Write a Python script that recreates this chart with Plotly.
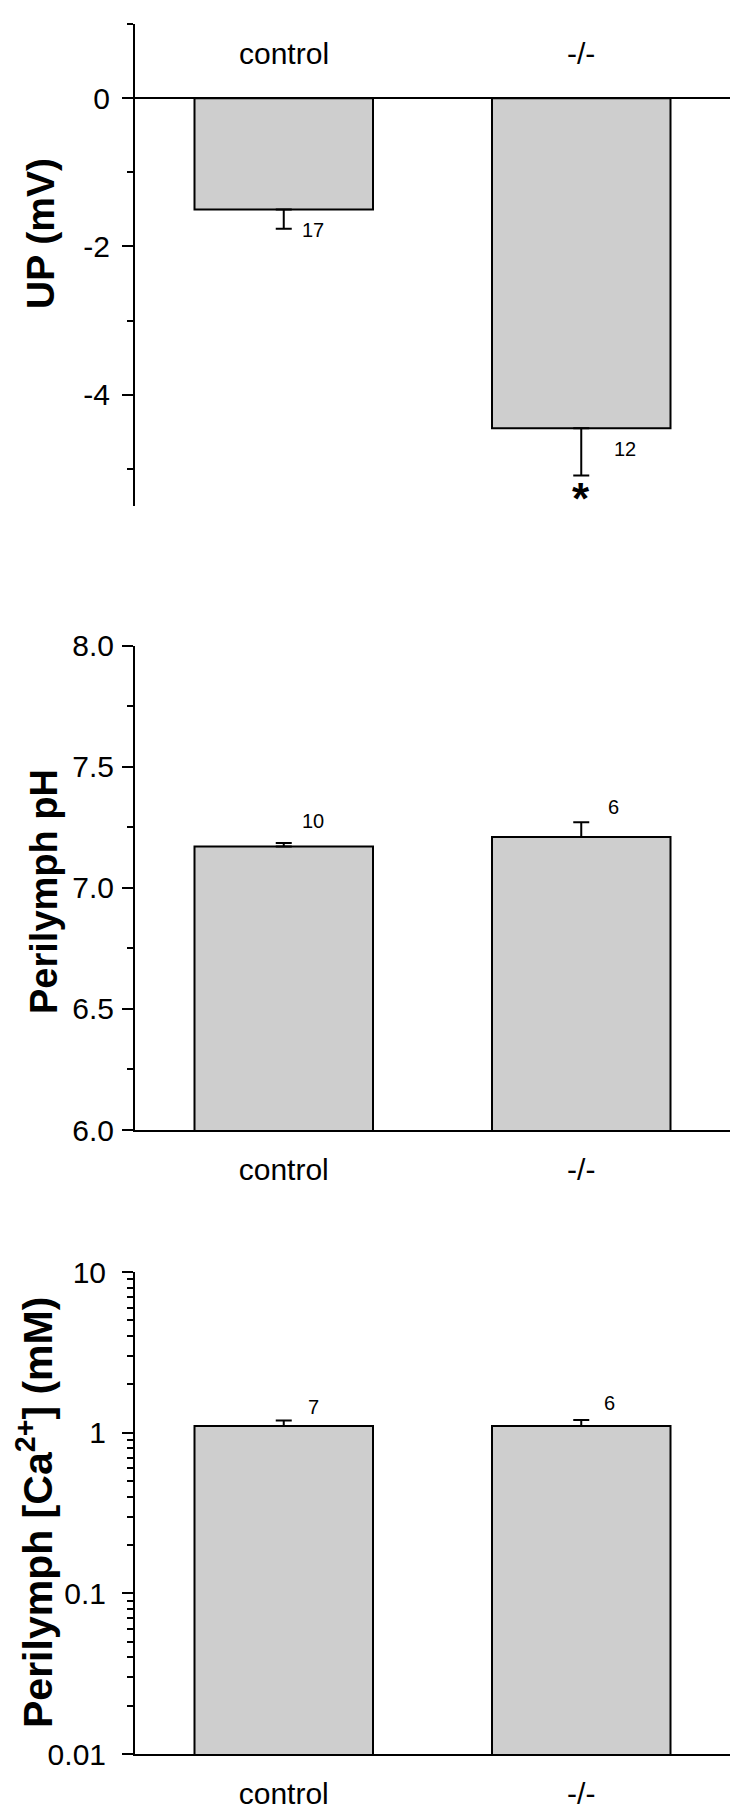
import math
import plotly.graph_objects as go

W, H = 743, 1816
FONT = 'Liberation Sans, Arial, sans-serif'

groups = ['control', '-/-']

# top panel: UP (mV)
up_mean = [-1.50, -4.45]
up_sem = [0.26, 0.64]
up_n = ['17', '12']
up_ticks = [0, -2, -4]
up_ticktext = ['0', '-2', '-4']

# middle panel: perilymph pH
ph_mean = [7.17, 7.21]
ph_sem = [0.015, 0.06]
ph_n = ['10', '6']

# bottom panel: perilymph Ca2+ (mM)
ca_mean = [1.10, 1.10]
ca_sem = [0.09, 0.10]
ca_n = ['7', '6']
ca_ticks = [0.01, 0.1, 1, 10]
ca_ticktext = ['0.01', '0.1', '1', '10']


def py(p):
    # pixel row -> paper fraction
    return 1 - p / H


bar_style = dict(width=0.6, marker=dict(color='#cecece', line=dict(color='black', width=2)),
                 showlegend=False, hoverinfo='skip')
err_style = dict(type='data', symmetric=False, color='black', thickness=2, width=8)

fig = go.Figure()
fig.add_trace(go.Bar(x=groups, y=up_mean, xaxis='x', yaxis='y',
                     error_y=dict(array=[0, 0], arrayminus=up_sem, **err_style), **bar_style))
fig.add_trace(go.Bar(x=groups, y=ph_mean, xaxis='x2', yaxis='y2',
                     error_y=dict(array=ph_sem, arrayminus=[0, 0], **err_style), **bar_style))
fig.add_trace(go.Bar(x=groups, y=ca_mean, xaxis='x3', yaxis='y3',
                     error_y=dict(array=ca_sem, arrayminus=[0, 0], **err_style), **bar_style))

xdom = [127 / W, 722 / W]
tickfont = dict(family=FONT, size=30, color='black')
minor_style = dict(ticks='outside', ticklen=6, tickwidth=2, tickcolor='black')
yax = dict(showline=True, linecolor='black', linewidth=2, ticks='outside', ticklen=11,
           tickwidth=2, tickcolor='black', showgrid=False, tickfont=tickfont, automargin=False)
xax = dict(domain=xdom, range=[-0.5, 1.5], showgrid=False, zeroline=False, automargin=False,
           fixedrange=True)

fig.update_layout(
    template='none',
    width=W, height=H,
    margin=dict(l=0, r=0, t=0, b=0, pad=0),
    paper_bgcolor='white', plot_bgcolor='white',
    font=dict(family=FONT, color='black'),
    xaxis=dict(showline=False, showticklabels=False, ticks='', anchor='y', **xax),
    yaxis=dict(domain=[py(498), py(16)], range=[-5.5, 1],
               tickvals=up_ticks, ticktext=up_ticktext,
               zeroline=True, zerolinecolor='black', zerolinewidth=2,
               ticklabelstandoff=6,
               minor=dict(dtick=1, tick0=0, **minor_style),
               anchor='x', **yax),
    xaxis2=dict(showline=True, linecolor='black', linewidth=2, ticks='', tickfont=tickfont,
                ticklabelstandoff=12, anchor='y2', **xax),
    yaxis2=dict(domain=[py(1122), py(637.5)], range=[6, 8], dtick=0.5, tickformat='.1f',
                zeroline=False, ticklabelstandoff=2,
                minor=dict(dtick=0.25, **minor_style),
                anchor='x2', **yax),
    xaxis3=dict(showline=True, linecolor='black', linewidth=2, ticks='', tickfont=tickfont,
                ticklabelstandoff=12, anchor='y3', **xax),
    yaxis3=dict(domain=[py(1746), py(1264)], type='log', range=[-2, 1],
                tickvals=ca_ticks, ticktext=ca_ticktext,
                zeroline=False, ticklabelstandoff=10,
                minor=dict(tickvals=[m * 10 ** e for e in (-2, -1, 0) for m in range(2, 10)],
                           **minor_style),
                anchor='x3', **yax),
)

ann = []
# group labels inside the top panel
for g in groups:
    ann.append(dict(x=g, y=0.5, xref='x', yref='y', text=g, showarrow=False,
                    yshift=8, font=dict(size=30)))

# n values next to the error bars
nfont = dict(size=20)
for g, m, s, n, dx, dy in zip(groups, up_mean, up_sem, up_n, [29, 44], [-1, 27]):
    ann.append(dict(x=g, y=m - s, xref='x', yref='y', text=n, showarrow=False,
                    xshift=dx, yshift=dy, font=nfont))
for g, m, s, n, dx, dy in zip(groups, ph_mean, ph_sem, ph_n, [29, 32], [22, 15]):
    ann.append(dict(x=g, y=m + s, xref='x2', yref='y2', text=n, showarrow=False,
                    xshift=dx, yshift=dy, font=nfont))
# log axis: annotation positions are given in log10 units
for g, m, s, n, dx, dy in zip(groups, ca_mean, ca_sem, ca_n, [30, 28], [14, 17]):
    ann.append(dict(x=g, y=math.log10(m + s), xref='x3', yref='y3', text=n, showarrow=False,
                    xshift=dx, yshift=dy, font=nfont))

# significance mark
ann.append(dict(x=groups[1], y=up_mean[1] - up_sem[1], xref='x', yref='y', text='<b>*</b>',
                showarrow=False, yanchor='middle', yshift=-23, font=dict(size=44)))

# y titles
titles = [('<b>UP (mV)</b>', 32, 226, 39),
          ('<b>Perilymph pH</b>', 36, 884, 38),
          ('<b>Perilymph [Ca<sup>2+</sup>] (mM)</b>', 27, 1505, 41)]
for t, x, y, sz in titles:
    ann.append(dict(x=x / W, y=py(y), xref='paper', yref='paper', text=t, textangle=-90,
                    xanchor='center', yanchor='middle', showarrow=False, font=dict(size=sz)))

fig.update_layout(annotations=ann)

fig.write_html('out.html')
